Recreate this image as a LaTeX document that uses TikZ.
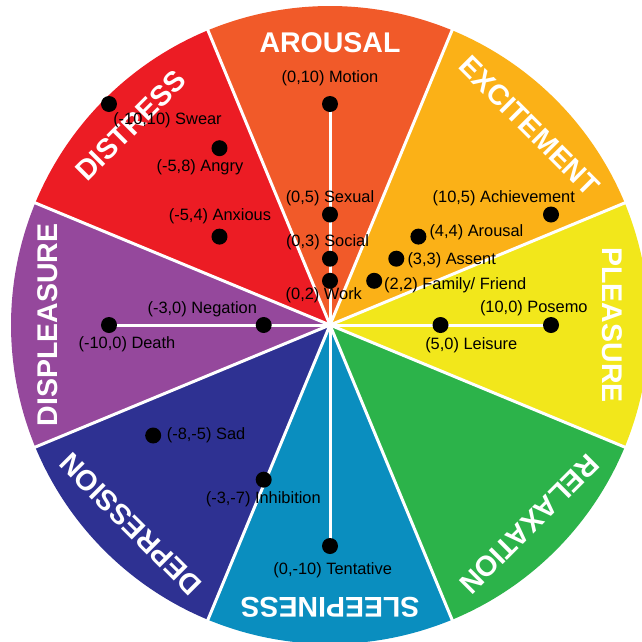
\documentclass[tikz,border=0pt]{standalone}
\usepackage{fontspec}
\setmainfont{Liberation Sans}
\definecolor{cArousal}{HTML}{F15A29}
\definecolor{cExcite}{HTML}{FBB117}
\definecolor{cPleasure}{HTML}{F2E71B}
\definecolor{cRelax}{HTML}{2CB34A}
\definecolor{cSleep}{HTML}{0A8EBF}
\definecolor{cDepress}{HTML}{2E3192}
\definecolor{cDispl}{HTML}{95489C}
\definecolor{cDistress}{HTML}{EC1C24}
\begin{document}
\begin{tikzpicture}[x=1pt,y=1pt,
  sectortitle/.style={text=white,inner sep=0pt,font=\fontsize{28.5}{30}\selectfont\bfseries},
  lbl/.style={inner sep=0pt,font=\fontsize{16.4}{18}\selectfont,text=black},
  dotnode/.style={circle,fill=black,minimum size=16pt,inner sep=0pt},
  sep/.style={draw=white,line width=3pt},
  axis/.style={draw=white,line width=3pt}]
\useasboundingbox (-330,-316) rectangle (312,325);
\clip (-330,-316) rectangle (312,325);
\fill[white] (-330,-316) rectangle (312,325);
% sectors
\foreach \a/\c in {90/cArousal,45/cExcite,0/cPleasure,-45/cRelax,-90/cSleep,-135/cDepress,180/cDispl,135/cDistress}{
  \fill[\c] (0,0) -- (\a-22.5:319) arc[start angle=\a-22.5,end angle=\a+22.5,radius=319] -- cycle;
}
\foreach \a in {22.5,67.5,...,360}{
  \draw[sep] (0,0) -- (\a:325);
}
% titles
\node[sectortitle,rotate=0] (tArousal) at (90:282) {AROUSAL};
\node[sectortitle,rotate=-45] (tExcite) at (45:282) {EXCITEMENT};
\node[sectortitle,rotate=-90] (tPleasure) at (0:282) {PLEASURE};
\node[sectortitle,rotate=-135] (tRelax) at (-45:282) {RELAXATION};
\node[sectortitle,rotate=180] (tSleep) at (-90:282) {SLEEPINESS};
\node[sectortitle,rotate=135] (tDepress) at (-135:282) {DEPRESSION};
\node[sectortitle,rotate=90] (tDispl) at (180:282) {DISPLEASURE};
\node[sectortitle,rotate=45] (tDistress) at (135:282) {DISTRESS};
% point coordinates (1 unit = 22.1 px)
\def\u{22.1}
\coordinate (pMotion) at (0,10*\u);
\coordinate (pTentative) at (0,-10*\u);
\coordinate (pDeath) at (-10*\u,0);
\coordinate (pPosemo) at (10*\u,0);
\draw[axis] (pMotion) -- (pTentative);
\draw[axis] (pDeath) -- (pPosemo);
% dots
\node[dotnode] (motion) at (pMotion) {};
\node[dotnode] (sexual) at (0,5*\u) {};
\node[dotnode] (social) at (0,3*\u) {};
\node[dotnode] (work) at (0,2*\u) {};
\node[dotnode] (swear) at (-10*\u,10*\u) {};
\node[dotnode] (angry) at (-5*\u,8*\u) {};
\node[dotnode] (anxious) at (-5*\u,4*\u) {};
\node[dotnode] (negation) at (-3*\u,0) {};
\node[dotnode] (death) at (pDeath) {};
\node[dotnode] (sad) at (-8*\u,-5*\u) {};
\node[dotnode] (inhibition) at (-3*\u,-7*\u) {};
\node[dotnode] (tentative) at (pTentative) {};
\node[dotnode] (achievement) at (10*\u,5*\u) {};
\node[dotnode] (arousal) at (4*\u,4*\u) {};
\node[dotnode] (assent) at (3*\u,3*\u) {};
\node[dotnode] (family) at (2*\u,2*\u) {};
\node[dotnode] (posemo) at (pPosemo) {};
\node[dotnode] (leisure) at (5*\u,0) {};
% labels
\node[lbl] (lMotion) at (0,247) {(0,10) Motion};
\node[lbl] (lSexual) at (0,126.5) {(0,5) Sexual};
\node[lbl] (lSocial) at (-2.5,83) {(0,3) Social};
\node[lbl] (lWork) at (-6.2,29.5) {(0,2) Work};
\node[lbl] (lSwear) at (-162.5,205) {(-10,10) Swear};
\node[lbl] (lAngry) at (-130,157.7) {(-5,8) Angry};
\node[lbl] (lAnxious) at (-110,108.3) {(-5,4) Anxious};
\node[lbl] (lNegation) at (-127.7,15.7) {(-3,0) Negation};
\node[lbl] (lDeath) at (-203,-18.8) {(-10,0) Death};
\node[lbl,anchor=west] (lSad) at (-163.3,-110.7) {(-8,-5) Sad};
\node[lbl] (lInhibition) at (-66.7,-174.3) {(-3,-7) Inhibition};
\node[lbl] (lTentative) at (2.7,-245.7) {(0,-10) Tentative};
\node[lbl] (lAchievement) at (173.8,126.7) {(10,5) Achievement};
\node[lbl,anchor=west] (lArousal) at (99.3,92.7) {(4,4) Arousal};
\node[lbl,anchor=west] (lAssent) at (77.3,65) {(3,3) Assent};
\node[lbl,anchor=west] (lFamily) at (54,40) {(2,2) Family/ Friend};
\node[lbl] (lPosemo) at (203.8,16.7) {(10,0) Posemo};
\node[lbl] (lLeisure) at (141.3,-20) {(5,0) Leisure};
\end{tikzpicture}
\end{document}
